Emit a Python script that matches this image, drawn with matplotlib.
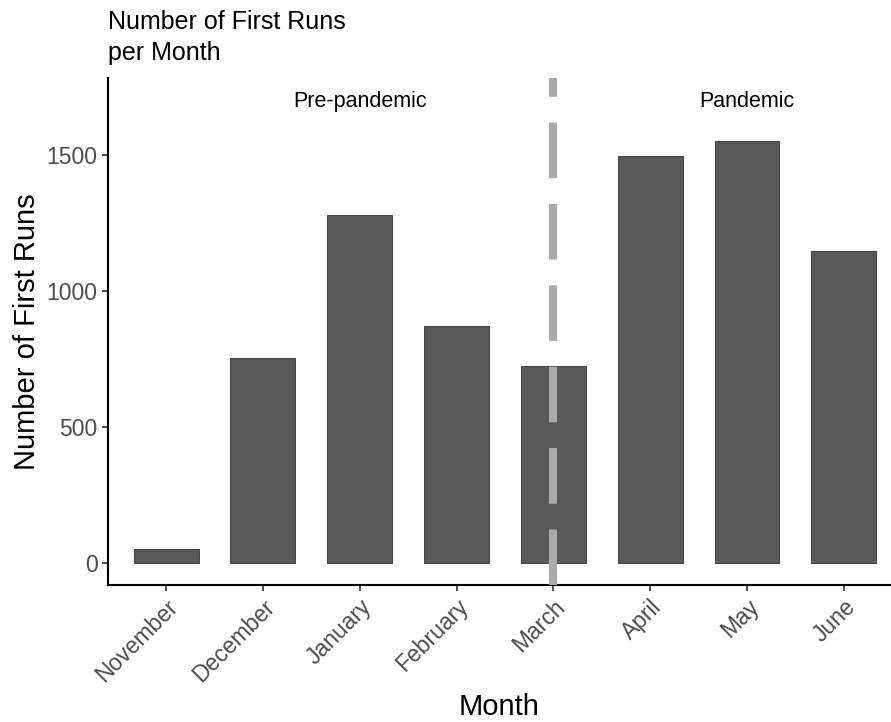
import matplotlib
matplotlib.use('Agg')
from matplotlib import pyplot as plt

plt.rcParams['font.family'] = ['Liberation Sans', 'DejaVu Sans']

# data
months = ['November', 'December', 'January', 'February', 'March',
          'April', 'May', 'June']
first_runs = [50, 752, 1280, 870, 724, 1497, 1551, 1147]
yticks = [0, 500, 1000, 1500]
split_month = 'March'
labels = [('Pre-pandemic', 'January'), ('Pandemic', 'May')]

fig = plt.figure(figsize=(8.91, 7.22), dpi=100)
ax = fig.add_axes([0.1212, 0.19, 0.878, 0.702])

x = list(range(len(months)))
ax.bar(x, first_runs, width=0.67, color='#595959', edgecolor='#333333',
       linewidth=0.6, zorder=2)

ax.axvline(months.index(split_month), color='#ABABAB', linewidth=5.8,
           dashes=(6.9, 3.2), zorder=3)

for txt, m in labels:
    ax.text(months.index(m), 1695, txt, ha='center', va='center',
            fontsize=15.5, color='black')

ax.set_xlim(-0.6, 7.48)
ax.set_ylim(-81, 1783)
ax.set_xticks(x)
ax.set_xticklabels(months, rotation=45, ha='right', rotation_mode='anchor',
                   fontsize=16.5, color='#4D4D4D')
ax.set_yticks(yticks)
ax.set_yticklabels([str(v) for v in yticks], fontsize=16.5, color='#4D4D4D')
ax.tick_params(axis='both', length=4, width=1.2, color='#333333')

for s in ['top', 'right']:
    ax.spines[s].set_visible(False)
for s in ['left', 'bottom']:
    ax.spines[s].set_linewidth(1.5)

ax.set_xlabel('Month', fontsize=21, labelpad=5)
ax.set_ylabel('Number of First Runs', fontsize=21, labelpad=4)

fig.text(0.1212, 0.986, 'Number of First Runs\nper Month', ha='left',
         va='top', fontsize=18, linespacing=1.35)

plt.savefig('out.png')
